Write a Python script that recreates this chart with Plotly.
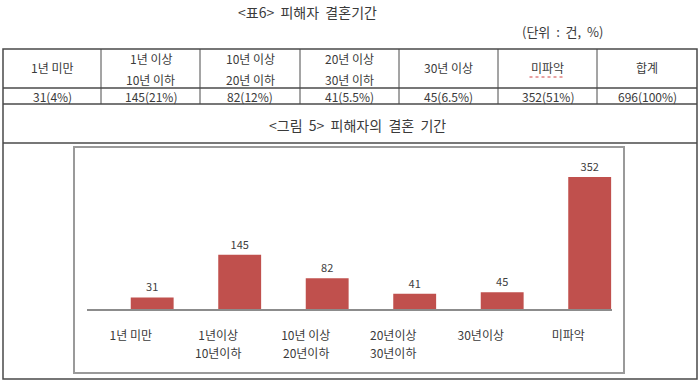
import plotly.graph_objects as go

# ---------------- data ----------------
categories = ["1년 미만", "1년이상 10년이하", "10년 이상 20년이하", "20년이상 30년이하", "30년이상", "미파악"]
tick_line1 = ["1년 미만", "1년이상", "10년 이상", "20년이상", "30년이상", "미파악"]
tick_line2 = ["", "10년이하", "20년이하", "30년이하", "", ""]
counts = [31, 145, 82, 41, 45, 352]

table_hdr_line1 = ["1년 미만", "1년 이상", "10년 이상", "20년 이상", "30년 이상", "미파악", "합계"]
table_hdr_line2 = ["", "10년 이하", "20년 이하", "30년 이하", "", "", ""]
table_counts = [31, 145, 82, 41, 45, 352, 696]
table_pcts = ["4%", "21%", "12%", "5.5%", "6.5%", "51%", "100%"]

title_text = "&lt;표6&gt;  피해자  결혼기간"
unit_text = "(단위  :  건,  %)"
caption_text = "&lt;그림  5&gt;  피해자의  결혼  기간"

W, H = 699, 382
FONT = "Noto Sans CJK KR"
TXT = "#3a3a3a"


def px(x):
    return x / W


def py(y):
    return 1 - y / H


fig = go.Figure()

fig.add_trace(go.Bar(
    x=list(range(len(categories))),
    y=counts,
    width=0.49,
    offset=0,
    marker=dict(color="#C0504D", line=dict(width=0)),
    text=[str(v) for v in counts],
    textposition="outside",
    textfont=dict(family=FONT, size=11, color="#404040"),
    cliponaxis=False,
    hovertext=categories,
))

shapes = []
annotations = []

# outer table border and row lines
col_x = [3, 101, 200, 300, 399, 498, 597, 697]
top, r1, r2, r3, bottom = 49, 88, 104, 143, 379
border = dict(color="#4a4a4a", width=1.5)
shapes.append(dict(type="rect", xref="paper", yref="paper",
                   x0=px(col_x[0]), x1=px(col_x[-1]), y0=py(bottom), y1=py(top), line=border))
for yy in (r1, r2, r3):
    shapes.append(dict(type="line", xref="paper", yref="paper",
                       x0=px(col_x[0]), x1=px(col_x[-1]), y0=py(yy), y1=py(yy), line=border))
for xx in col_x[1:-1]:
    shapes.append(dict(type="line", xref="paper", yref="paper",
                       x0=px(xx), x1=px(xx), y0=py(r2), y1=py(top), line=dict(color="#4a4a4a", width=1)))

# chart box
shapes.append(dict(type="rect", xref="paper", yref="paper",
                   x0=px(74), x1=px(624), y0=py(373), y1=py(147),
                   line=dict(color="#9a9a9a", width=2)))

# table texts
tfont = dict(family=FONT, size=12, color=TXT)
for i in range(len(table_hdr_line1)):
    cx = (col_x[i] + col_x[i + 1]) / 2
    if table_hdr_line2[i]:
        annotations.append(dict(x=px(cx), y=py(59), xref="paper", yref="paper", text=table_hdr_line1[i],
                                showarrow=False, font=tfont, xanchor="center", yanchor="middle"))
        annotations.append(dict(x=px(cx), y=py(79), xref="paper", yref="paper", text=table_hdr_line2[i],
                                showarrow=False, font=tfont, xanchor="center", yanchor="middle"))
    else:
        annotations.append(dict(x=px(cx), y=py(68), xref="paper", yref="paper", text=table_hdr_line1[i],
                                showarrow=False, font=tfont, xanchor="center", yanchor="middle"))
    annotations.append(dict(x=px(cx), y=py(96), xref="paper", yref="paper",
                            text=f"{table_counts[i]}({table_pcts[i]})",
                            showarrow=False, font=tfont, xanchor="center", yanchor="middle"))
    if table_hdr_line1[i] == "미파악":
        shapes.append(dict(type="line", xref="paper", yref="paper",
                           x0=px(cx - 18), x1=px(cx + 18), y0=py(77), y1=py(77),
                           line=dict(color="#d04040", width=1, dash="dot")))

annotations.append(dict(x=px(307), y=py(12), xref="paper", yref="paper", text=title_text,
                        showarrow=False, font=dict(family=FONT, size=14, color=TXT),
                        xanchor="center", yanchor="middle"))
annotations.append(dict(x=px(562), y=py(32), xref="paper", yref="paper", text=unit_text,
                        showarrow=False, font=dict(family=FONT, size=13, color=TXT),
                        xanchor="center", yanchor="middle"))
annotations.append(dict(x=px(357), y=py(125), xref="paper", yref="paper", text=caption_text,
                        showarrow=False, font=dict(family=FONT, size=14, color=TXT),
                        xanchor="center", yanchor="middle"))

# second lines of category labels
for i, t in enumerate(tick_line2):
    if t:
        annotations.append(dict(x=i, y=py(352), xref="x", yref="paper", text=t,
                                showarrow=False, font=dict(family=FONT, size=12, color=TXT),
                                xanchor="center", yanchor="middle"))

fig.update_layout(
    width=W, height=H,
    margin=dict(l=0, r=0, t=0, b=0),
    paper_bgcolor="white", plot_bgcolor="white",
    showlegend=False,
    shapes=shapes,
    annotations=annotations,
    xaxis=dict(
        domain=[px(87), px(612)],
        range=[-0.5, len(categories) - 0.5],
        tickmode="array",
        tickvals=list(range(len(categories))),
        ticktext=tick_line1,
        tickfont=dict(family=FONT, size=12, color=TXT),
        showline=True, linecolor="#8c8c8c", linewidth=2,
        showgrid=False, zeroline=False, ticks="",
        ticklabelstandoff=15,
        fixedrange=True,
    ),
    yaxis=dict(
        domain=[py(309), py(159)],
        range=[0, 400],
        visible=False,
        fixedrange=True,
    ),
)

fig.write_html(
    "out.html",
    config={"displayModeBar": False},
    post_script="document.body.style.margin='0px';document.body.style.overflow='hidden';",
)
